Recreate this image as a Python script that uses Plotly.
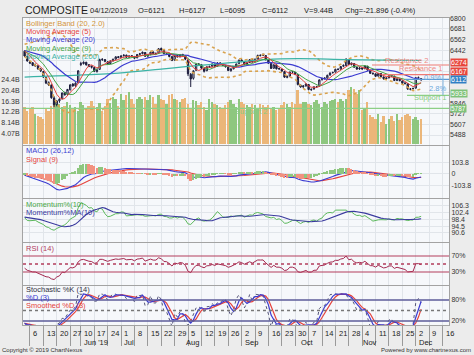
import numpy as np
import pandas as pd
import plotly.graph_objects as go

# ---------------- data ----------------
holidays = ["2019-05-30", "2019-06-03", "2019-06-04", "2019-06-05", "2019-06-06", "2019-06-07"]
trade_dates = [d for d in pd.bdate_range("2019-05-02", "2019-12-04") if d.strftime("%Y-%m-%d") not in holidays]
future_dates = list(pd.bdate_range("2019-12-05", "2019-12-20"))

# closes before the visible window (used only to seed the indicators)
prior_close = [6482, 6478, 6500, 6525, 6490, 6470, 6440, 6468, 6482, 6452, 6474, 6472, 6480, 6474, 6411,
               6406, 6405, 6401, 6481, 6507, 6414, 6462, 6447, 6401, 6401, 6426, 6455, 6430, 6445, 6455]

opens = [6430, 6370, 6310, 6300, 6262, 6265, 6228, 6200, 6135, 6075, 6050, 5905, 5830, 5872, 5895, 5965, 5945, 5995, 6060, 6040,
         6075, 6280, 6290, 6305, 6278, 6260, 6245, 6200, 6225, 6340, 6335, 6310, 6290, 6320, 6340, 6368, 6360, 6378, 6385, 6362,
         6378, 6370, 6355, 6395, 6402, 6415, 6375, 6390, 6420, 6405, 6410, 6460, 6445, 6400, 6398, 6368, 6330, 6380, 6368, 6392,
         6375, 6330, 6170, 6125, 6215, 6285, 6278, 6235, 6210, 6255, 6260, 6285, 6262, 6298, 6288, 6268, 6250, 6210, 6232, 6255,
         6288, 6330, 6310, 6282, 6302, 6335, 6310, 6342, 6385, 6395, 6380, 6330, 6290, 6238, 6275, 6235, 6228, 6200, 6135, 6150,
         6198, 6190, 6165, 6050, 6030, 6040, 6055, 5995, 6005, 6030, 6035, 6110, 6125, 6128, 6162, 6188, 6195, 6228, 6228, 6260,
         6268, 6335, 6282, 6290, 6248, 6230, 6242, 6232, 6260, 6215, 6182, 6175, 6150, 6178, 6140, 6118, 6130, 6155, 6150, 6100,
         6115, 6095, 6072, 6065, 6005, 6008, 6015, 6132, 6121]
highs = [6440, 6378, 6318, 6305, 6290, 6270, 6240, 6205, 6140, 6090, 6055, 5925, 5880, 5900, 5965, 5975, 6005, 6060, 6070, 6080,
         6215, 6310, 6315, 6310, 6285, 6268, 6250, 6230, 6345, 6350, 6340, 6315, 6325, 6345, 6372, 6375, 6385, 6395, 6390, 6382,
         6385, 6375, 6398, 6410, 6425, 6420, 6395, 6425, 6428, 6415, 6465, 6470, 6450, 6410, 6402, 6375, 6388, 6390, 6398, 6400,
         6380, 6335, 6185, 6215, 6290, 6295, 6282, 6245, 6260, 6268, 6292, 6290, 6305, 6305, 6295, 6275, 6255, 6238, 6258, 6290,
         6335, 6340, 6315, 6308, 6340, 6340, 6345, 6390, 6392, 6400, 6385, 6335, 6295, 6282, 6280, 6245, 6232, 6205, 6155, 6200,
         6205, 6195, 6168, 6055, 6048, 6068, 6060, 6012, 6035, 6040, 6112, 6130, 6135, 6165, 6190, 6198, 6232, 6235, 6262, 6280,
         6350, 6340, 6300, 6295, 6255, 6248, 6248, 6270, 6265, 6220, 6190, 6178, 6185, 6182, 6145, 6135, 6158, 6160, 6152, 6125,
         6120, 6100, 6080, 6068, 6015, 6020, 6140, 6145, 6127]
lows = [6365, 6312, 6285, 6262, 6255, 6222, 6195, 6130, 6060, 6040, 5895, 5800, 5810, 5850, 5890, 5930, 5935, 5990, 6030, 6030,
        6070, 6262, 6280, 6268, 6250, 6235, 6195, 6190, 6222, 6320, 6305, 6280, 6285, 6315, 6335, 6350, 6355, 6370, 6355, 6355,
        6365, 6340, 6350, 6385, 6395, 6365, 6360, 6385, 6395, 6390, 6405, 6435, 6395, 6385, 6360, 6318, 6325, 6358, 6360, 6370,
        6330, 6150, 6027, 6110, 6210, 6270, 6230, 6190, 6205, 6240, 6255, 6250, 6258, 6282, 6262, 6245, 6205, 6200, 6225, 6250,
        6285, 6305, 6272, 6275, 6298, 6300, 6305, 6338, 6370, 6375, 6325, 6288, 6230, 6232, 6225, 6220, 6195, 6130, 6125, 6145,
        6180, 6160, 6045, 6020, 6015, 6030, 5990, 5985, 5998, 6018, 6030, 6100, 6110, 6122, 6155, 6178, 6190, 6215, 6222, 6250,
        6262, 6275, 6270, 6245, 6220, 6220, 6222, 6228, 6210, 6175, 6165, 6140, 6145, 6135, 6110, 6110, 6125, 6140, 6095, 6095,
        6090, 6060, 6055, 5995, 5990, 6000, 6010, 6120, 6095]
closes = [6375, 6320, 6297, 6270, 6269, 6230, 6209, 6139, 6071, 6050, 5907, 5827, 5870, 5890, 5960, 5940, 6000, 6050, 6040, 6070,
          6209, 6289, 6305, 6276, 6258, 6250, 6204, 6219, 6335, 6336, 6315, 6289, 6320, 6339, 6366, 6358, 6375, 6384, 6362, 6375,
          6373, 6351, 6392, 6400, 6418, 6373, 6388, 6418, 6403, 6403, 6456, 6444, 6403, 6400, 6370, 6325, 6381, 6366, 6390, 6382,
          6340, 6175, 6117, 6208, 6282, 6282, 6240, 6204, 6253, 6257, 6286, 6260, 6297, 6290, 6270, 6256, 6213, 6230, 6252, 6285,
          6328, 6313, 6280, 6300, 6334, 6308, 6340, 6382, 6381, 6383, 6334, 6295, 6236, 6276, 6231, 6231, 6206, 6138, 6146, 6195,
          6196, 6169, 6055, 6027, 6038, 6061, 5999, 6000, 6029, 6030, 6107, 6123, 6126, 6159, 6185, 6191, 6226, 6225, 6257, 6270,
          6339, 6281, 6295, 6250, 6228, 6240, 6230, 6264, 6217, 6181, 6177, 6148, 6180, 6142, 6120, 6128, 6152, 6152, 6101, 6118,
          6100, 6070, 6068, 6004, 6003, 6011, 6130, 6133, 6112]
volume_b = [14.0, 12.4, 13.2, 14.0, 11.3, 10.5, 10.2, 9.4, 13.2, 12.4, 14.3, 17.0, 16.2, 15.1, 14.0, 14.3, 15.8, 15.0, 13.2, 14.0,
            12.4, 15.8, 15.0, 13.2, 14.3, 16.2, 14.3, 14.0, 15.5, 12.4, 14.3, 17.0, 15.5, 17.8, 17.0, 14.3,
            19.1, 16.6, 18.5, 19.8, 17.2, 15.4, 17.2, 17.9, 17.2, 17.9, 16.6, 18.5, 17.9, 15.4, 18.5, 17.2, 16.6, 15.4, 18.5,
            19.1, 17.2, 16.6, 16.0, 17.2, 17.6, 15.4, 13.5, 16.6, 16.4, 14.8, 16.0, 14.1, 12.8, 17.2, 16.0, 15.4, 14.8,
            14.1, 13.5, 14.8, 16.0, 16.6, 15.4, 14.1, 17.2, 16.0, 15.4, 14.8, 14.1, 15.4, 14.8, 13.5, 15.4, 14.8, 14.1, 14.8, 13.5,
            14.1, 12.8, 13.5, 14.8, 16.0, 15.4, 14.1, 16.0, 15.4, 20.4, 15.4, 16.0, 16.0, 15.4, 14.8, 16.0, 16.6, 15.4, 14.1, 16.0,
            15.4, 16.2, 16.8, 17.2, 16.0, 17.0, 16.4, 17.2, 20.4, 21.8, 21.0, 19.2, 20.6, 12.8, 13.6, 16.0, 11.2, 10.2, 9.6, 11.6,
            8.4, 10.8, 7.8, 9.4, 10.6, 8.8, 11.4, 9.2, 10.4, 11.2, 11.6, 10.8, 9.6, 10.2, 9.0, 9.44]

ma200_dates = ["2019-05-02", "2019-05-31", "2019-06-28", "2019-07-19", "2019-08-05", "2019-08-23",
               "2019-09-13", "2019-10-01", "2019-10-25", "2019-11-15", "2019-12-04"]
ma200_vals = [6139, 6160, 6184, 6225, 6258, 6295, 6335, 6345, 6335, 6330, 6325]

level_names = ["Resistance 2", "Resistance 1", "Support 1", "Support 2"]
level_vals = [6274, 6167, 5933, 5787]
last_close = 6112
pct_labels = ["0.9%", "2.8%"]

price_ticks = [5488, 5607, 5727, 5846, 5965, 6085, 6204, 6323, 6442, 6562, 6681, 6800]
price_tick_text = ["5488", "5607", "5727", "5846", "", "", "", "", "6442", "6562", "6681", "6800"]
vol_ticks = [4.07, 8.14, 12.2, 16.3, 20.4, 24.4]
vol_tick_text = ["4.07B", "8.14B", "12.2B", "16.3B", "20.4B", "24.4B"]
macd_ticks = [-103.8, 0, 103.8]
macd_tick_text = ["-103.8", "0", "103.8"]
mom_ticks = [90.6, 94.5, 98.4, 102.4, 106.3]

header = [("04/12/2019", 88), ("O=6121", 136), ("H=6127", 177), ("L=6095", 218),
          ("C=6112", 260), ("V=9.44B", 302), ("Chg=-21.896 (-0.4%)", 343)]

# ---------------- indicators ----------------
n = len(trade_dates)
assert n == len(closes) == len(opens) == len(highs) == len(lows) == len(volume_b)
P = len(prior_close)
s = pd.Series(prior_close + closes, dtype=float)
ma5 = s.rolling(5).mean().iloc[P:].values
ma9 = s.rolling(9).mean().iloc[P:].values
ma20 = s.rolling(20).mean()
sd20 = s.rolling(20).std(ddof=0)
bb_up = (ma20 + 2 * sd20).iloc[P:].values
bb_lo = (ma20 - 2 * sd20).iloc[P:].values
ma20 = ma20.iloc[P:].values
ema12 = s.ewm(span=12, adjust=False).mean()
ema26 = s.ewm(span=26, adjust=False).mean()
macd_full = ema12 - ema26
sig_full = macd_full.ewm(span=9, adjust=False).mean()
macd = macd_full.iloc[P:].values
sig = sig_full.iloc[P:].values
hist = macd - sig
hist_prev = np.concatenate([[hist[0]], hist[:-1]])
hist_col = ["#8ec77f" if h >= hp else "#f2917f" for h, hp in zip(hist, hist_prev)]
mom_full = s / s.shift(10) * 100
mom = mom_full.iloc[P:].values
mom_ma = mom_full.rolling(10).mean().iloc[P:].values
d = s.diff()
g = d.clip(lower=0).ewm(alpha=1 / 14, adjust=False).mean()
l_ = (-d.clip(upper=0)).ewm(alpha=1 / 14, adjust=False).mean()
rsi = (100 - 100 / (1 + g / l_)).iloc[P:].values
hh = pd.Series(highs, dtype=float).rolling(14, min_periods=1).max()
ll = pd.Series(lows, dtype=float).rolling(14, min_periods=1).min()
stk = ((pd.Series(closes, dtype=float) - ll) / (hh - ll) * 100)
std_ = stk.rolling(3, min_periods=1).mean()
sstd = std_.rolling(3, min_periods=1).mean()

x = list(range(n))
date_key = [dd.strftime("%Y-%m-%d") for dd in trade_dates]
ma200_x = [date_key.index(dk) for dk in ma200_dates]
vol_col = ["#8ec77f" if c >= o else "#ebb679" for c, o in zip(closes, opens)]

all_dates = trade_dates + future_dates
week_idx, seen = [], set()
for i, dd in enumerate(all_dates):
    k = tuple(dd.isocalendar()[:2])
    if k not in seen:
        seen.add(k)
        week_idx.append(i)
week_idx = [i for i in week_idx[1:] if i <= 157]
month_idx = [i for i in range(1, n) if trade_dates[i].month != trade_dates[i - 1].month]

# ---------------- layout helpers ----------------
W, H = 474, 355
L, R, T, B = 23, 25, 18, 30
PW, PH = W - L - R, H - T - B
def px_x(xp):
    return (xp - L) / PW
def px_y(yp):
    return (H - B - yp) / PH
def dom(top, bot):
    return [px_y(bot), px_y(top)]
XR = [-0.6, 158.4]
def xi(xp):
    return XR[0] + (xp - L) / PW * (XR[1] - XR[0])

FONT = "Liberation Sans, Arial, sans-serif"
GRID = "#e1e5ea"
BORDER = "#a3a3a3"

fig = go.Figure()
fig.add_trace(go.Bar(x=x, y=volume_b, marker=dict(color=vol_col, line=dict(width=0)), width=0.7,
                     xaxis="x", yaxis="y", hoverinfo="skip"))
fig.add_trace(go.Scatter(x=x, y=bb_up, mode="lines", line=dict(color="#d9a34f", width=1.6, dash="dot"), xaxis="x", yaxis="y2"))
fig.add_trace(go.Scatter(x=x, y=bb_lo, mode="lines", line=dict(color="#d9a34f", width=1.6, dash="dot"), xaxis="x", yaxis="y2"))
fig.add_trace(go.Scatter(x=ma200_x, y=ma200_vals, mode="lines", line=dict(color="#3bb3a6", width=1.2, shape="spline"), xaxis="x", yaxis="y2"))
fig.add_trace(go.Scatter(x=x, y=ma20, mode="lines", line=dict(color="#3b3bd1", width=1.2), xaxis="x", yaxis="y2"))
fig.add_trace(go.Scatter(x=x, y=ma9, mode="lines", line=dict(color="#45a545", width=1), xaxis="x", yaxis="y2"))
fig.add_trace(go.Scatter(x=x, y=ma5, mode="lines", line=dict(color="#e5433d", width=1), xaxis="x", yaxis="y2"))
fig.add_trace(go.Candlestick(x=x, open=opens, high=highs, low=lows, close=closes, xaxis="x", yaxis="y2",
                             whiskerwidth=0,
                             increasing=dict(line=dict(color="#1c1c3c", width=1), fillcolor="#ffffff"),
                             decreasing=dict(line=dict(color="#1c1c3c", width=1), fillcolor="#1c1c3c")))
fig.add_trace(go.Bar(x=x, y=hist, marker=dict(color=hist_col, line=dict(width=0)), width=0.7, xaxis="x2", yaxis="y7"))
fig.add_trace(go.Scatter(x=x, y=sig, mode="lines", line=dict(color="#e5433d", width=1.1), xaxis="x2", yaxis="y3"))
fig.add_trace(go.Scatter(x=x, y=macd, mode="lines", line=dict(color="#3b3bd1", width=1.1), xaxis="x2", yaxis="y3"))
fig.add_trace(go.Scatter(x=x, y=mom, mode="lines", line=dict(color="#5cb85c", width=1), xaxis="x3", yaxis="y4"))
fig.add_trace(go.Scatter(x=x, y=mom_ma, mode="lines", line=dict(color="#3a3a9e", width=1.1), xaxis="x3", yaxis="y4"))
fig.add_trace(go.Scatter(x=x, y=rsi, mode="lines", line=dict(color="#a3284f", width=1), xaxis="x4", yaxis="y5"))
fig.add_trace(go.Scatter(x=x, y=stk, mode="lines", line=dict(color="#55557a", width=1, dash="dot"), xaxis="x5", yaxis="y6"))
fig.add_trace(go.Scatter(x=x, y=sstd, mode="lines", line=dict(color="#e5433d", width=1.2), xaxis="x5", yaxis="y6"))
fig.add_trace(go.Scatter(x=x, y=std_, mode="lines", line=dict(color="#3b3bd1", width=1.2), xaxis="x5", yaxis="y6"))

shapes = []
lvl_start_px = [372, 383, 407, L]
lvl_col = ["#ee7a74", "#ee7a74", "#8dcf86", "#8dcf86"]
for v, sx, c in zip(level_vals, lvl_start_px, lvl_col):
    shapes.append(dict(type="line", xref="x", yref="y2", x0=xi(sx), x1=XR[1], y0=v, y1=v, line=dict(color=c, width=1.2)))
shapes.append(dict(type="line", xref="x", yref="y2", x0=xi(405), x1=XR[1], y0=last_close, y1=last_close,
                   line=dict(color="#5b9bd5", width=1.2)))
shapes.append(dict(type="line", xref="x", yref="y2", x0=xi(443), x1=xi(443), y0=level_vals[1], y1=level_vals[2],
                   line=dict(color="#7fb3e0", width=1)))
for yv, st in [(70, "solid"), (30, "solid"), (50, "dot")]:
    shapes.append(dict(type="line", xref="x4 domain", yref="y5", x0=0, x1=1, y0=yv, y1=yv,
                       line=dict(color="#b33c5c", width=1 if st == "solid" else 1.4, dash=st)))
for yv, st in [(80, "solid"), (20, "solid"), (50, "dot")]:
    shapes.append(dict(type="line", xref="x5 domain", yref="y6", x0=0, x1=1, y0=yv, y1=yv,
                       line=dict(color="#5d5d9a" if st == "solid" else "#777777", width=1.5 if st == "solid" else 1.4, dash=st)))

ann = []
def text(t, xp, yp, size=7.5, color="#222", xanchor="left", **kw):
    ann.append(dict(text=t, x=px_x(xp), y=px_y(yp), xref="paper", yref="paper", showarrow=False,
                    xanchor=xanchor, yanchor="middle", font=dict(family=FONT, size=size, color=color), **kw))

text("COMPOSITE", 23, 10.5, size=10.5, color="#1a1a1a")
for t, xp in header:
    text(t, xp, 10.5, size=7.5, color="#1a1a1a")
legend_main = [("Bollinger Band (20, 2.0)", "#d3943a"), ("Moving Average (5)", "#e5433d"),
               ("Moving Average (20)", "#3b3bd1"), ("Moving Average (9)", "#45a545"), ("Moving Average (200)", "#3bb3a6")]
for k, (t, c) in enumerate(legend_main):
    text(t, 24, 23.5 + 8.2 * k, color=c)
text("MACD (26,12)", 24, 150.5, color="#3b3bd1")
text("Signal (9)", 24, 159, color="#e5433d")
text("Momentum%(10)", 24, 204, color="#4aa84a")
text("Momentum%MA(10)", 24, 212.5, color="#3a3a9e")
text("RSI (14)", 24, 248.5, color="#b33c5c")
text("Stochastic %K (14)", 24, 289.5, color="#333344")
text("%D (3)", 24, 297.5, color="#3b3bd1")
text("Smoothed %D (3)", 24, 305.5, color="#e5433d")
text("Copyright \u00a9 2019 ChartNexus", 0, 350, size=6, color="#333")
text("Powered by www.chartnexus.com", 473, 350, size=6, color="#333", xanchor="right")

lvl_txt_pos = [(383, 61), (397, 68.5), (412, 97.5), (233, 111)]
lvl_txt_col = ["#ef8a84", "#ef8a84", "#86cc80", "#86cc80"]
for name, (xp, yp), c in zip(level_names, lvl_txt_pos, lvl_txt_col):
    text(name, xp, yp, size=7.5, color=c)
text(pct_labels[0], 422, 77, size=7.5, color="#6aa8dc")
text(pct_labels[1], 427, 88.5, size=7.5, color="#6aa8dc")

box_y = [63, 71, 79, 93, 108.7]
box_txt = [str(level_vals[0]), str(level_vals[1]), str(last_close), str(level_vals[2]), str(level_vals[3])]
box_bg = ["#e8453c", "#e8453c", "#2f7fc4", "#7ec27a", "#7ec27a"]
box_size = [7, 7, 7, 7, 6.5]
for yp, t, bg, fs in zip(box_y, box_txt, box_bg, box_size):
    ann.append(dict(text=t, x=px_x(450), y=px_y(yp), xref="paper", yref="paper", showarrow=False,
                    xanchor="left", yanchor="middle", bgcolor=bg, borderpad=0,
                    font=dict(family=FONT, size=fs, color="#ffffff")))

for i in week_idx:
    ann.append(dict(text=str(all_dates[i].day), x=i + 0.45, y=px_y(333.5), xref="x5", yref="paper",
                    showarrow=False, xanchor="left", yanchor="middle", font=dict(family=FONT, size=7.5, color="#222")))
for k, i in enumerate(month_idx):
    lab = trade_dates[i].strftime("%b") + (" '19" if k == 0 else "")
    ann.append(dict(text=lab, x=i + 0.45, y=px_y(342.5), xref="x5", yref="paper",
                    showarrow=False, xanchor="left", yanchor="middle", font=dict(family=FONT, size=7.5, color="#222")))

xcommon = dict(range=XR, tickvals=week_idx, showgrid=True, gridcolor=GRID, gridwidth=1, zeroline=False,
               showline=True, mirror=True, linecolor=BORDER, showticklabels=False, ticks="", matches="x",
               automargin=False)
ycommon = dict(showline=True, mirror=True, linecolor=BORDER, zeroline=False, ticks="", showgrid=True,
               gridcolor=GRID, tickfont=dict(family=FONT, size=7, color="#333"), side="right", automargin=False)

layout = dict(
    width=W, height=H, margin=dict(l=L, r=R, t=T, b=B, autoexpand=False),
    paper_bgcolor="#ececec", plot_bgcolor="#f6f8fb", showlegend=False, bargap=0,
    font=dict(family=FONT),
    xaxis=dict(xcommon, anchor="y"),
    xaxis2=dict(xcommon, anchor="y3"),
    xaxis3=dict(xcommon, anchor="y4"),
    xaxis4=dict(xcommon, anchor="y5"),
    xaxis5=dict(xcommon, anchor="y6", ticks="outside", ticklen=20, tickcolor="#9a9a9a", tickwidth=1),
    yaxis=dict(ycommon, domain=dom(18, 145), range=[-0.3, 47.8], side="left", showgrid=False,
               tickvals=vol_ticks, ticktext=vol_tick_text, anchor="x", ticklabelstandoff=1),
    yaxis2=dict(ycommon, overlaying="y", range=[5376, 6802], tickvals=price_ticks, ticktext=price_tick_text,
                anchor="x", showline=False),
    yaxis3=dict(ycommon, domain=dom(146, 198), range=[-217, 253], tickvals=macd_ticks, ticktext=macd_tick_text, anchor="x2"),
    yaxis7=dict(ycommon, overlaying="y3", range=[-217 * 0.55, 253 * 0.55], showticklabels=False, showgrid=False,
                showline=False, anchor="x2"),
    yaxis4=dict(ycommon, domain=dom(199, 242), range=[85.4, 110.2], tickvals=mom_ticks, anchor="x3"),
    yaxis5=dict(ycommon, domain=dom(243, 285), range=[-2.5, 102.5], tickvals=[30, 70], ticktext=["30%", "70%"],
                anchor="x4", showgrid=False),
    yaxis6=dict(ycommon, domain=dom(286, 325), range=[8.6, 120], tickvals=[20, 80], ticktext=["20%", "80%"],
                anchor="x5", showgrid=False),
    shapes=shapes, annotations=ann,
)
fig.update_layout(layout)
fig.update_xaxes(rangeslider_visible=False)
fig.write_html("out.html", config={"displayModeBar": False},
               post_script="document.body.style.margin='0';document.body.style.overflow='hidden';")
